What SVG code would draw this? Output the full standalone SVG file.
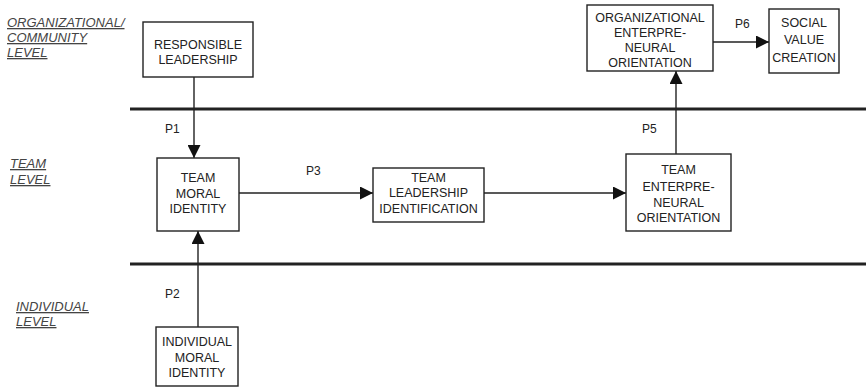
<svg xmlns="http://www.w3.org/2000/svg" width="866" height="389" viewBox="0 0 866 389">
<defs>
<marker id="ah" markerWidth="13" markerHeight="13" refX="13" refY="6.5" orient="auto" markerUnits="userSpaceOnUse">
<path d="M0,0 L13,6.5 L0,13 Z" fill="#111"/>
</marker>
<style>
.box{fill:#fff;stroke:#222;stroke-width:1.4}
.nt{font-family:"Liberation Sans",Arial,sans-serif;font-size:12.5px;fill:#222;text-anchor:middle}
.lv{font-family:"Liberation Sans",Arial,sans-serif;font-size:13px;font-style:italic;fill:#444;text-decoration:underline}
.pl{font-family:"Liberation Sans",Arial,sans-serif;font-size:12px;fill:#222}
.cn{stroke:#222;stroke-width:1.4;fill:none}
.sep{stroke:#222;stroke-width:3}
</style>
</defs>
<rect width="866" height="389" fill="#fff"/>
<g id="levels">
<text class="lv" x="7" y="27">ORGANIZATIONAL/</text>
<text class="lv" x="7" y="42">COMMUNITY</text>
<text class="lv" x="7" y="57">LEVEL</text>
<text class="lv" x="10" y="168">TEAM</text>
<text class="lv" x="10" y="184">LEVEL</text>
<text class="lv" x="16" y="311">INDIVIDUAL</text>
<text class="lv" x="16" y="326">LEVEL</text>
<line class="sep" x1="130" y1="109" x2="866" y2="109"/>
<line class="sep" x1="130" y1="264" x2="866" y2="264"/>
</g>
<g id="connectors">
<line class="cn" x1="194" y1="77" x2="194" y2="158" marker-end="url(#ah)"/>
<line class="cn" x1="198" y1="327" x2="198" y2="231" marker-end="url(#ah)"/>
<line class="cn" x1="239" y1="193" x2="373" y2="193" marker-end="url(#ah)"/>
<line class="cn" x1="484" y1="193" x2="626" y2="193" marker-end="url(#ah)"/>
<line class="cn" x1="676" y1="154" x2="676" y2="71" marker-end="url(#ah)"/>
<line class="cn" x1="713" y1="42" x2="769" y2="42" marker-end="url(#ah)"/>
<text class="pl" x="165" y="133">P1</text>
<text class="pl" x="165" y="298">P2</text>
<text class="pl" x="306" y="175">P3</text>
<text class="pl" x="642" y="133">P5</text>
<text class="pl" x="735" y="28">P6</text>
</g>
<g id="responsible-leadership">
<rect class="box" x="143" y="22" width="110" height="55"/>
<text class="nt" x="198" y="49">RESPONSIBLE</text>
<text class="nt" x="198" y="64">LEADERSHIP</text>
</g>
<g id="team-moral-identity">
<rect class="box" x="157" y="158" width="82" height="73"/>
<text class="nt" x="198" y="182">TEAM</text>
<text class="nt" x="198" y="198">MORAL</text>
<text class="nt" x="198" y="213">IDENTITY</text>
</g>
<g id="individual-moral-identity">
<rect class="box" x="156" y="327" width="82" height="59"/>
<text class="nt" x="197" y="346">INDIVIDUAL</text>
<text class="nt" x="197" y="362">MORAL</text>
<text class="nt" x="197" y="377">IDENTITY</text>
</g>
<g id="team-leadership-identification">
<rect class="box" x="373" y="168" width="111" height="54"/>
<text class="nt" x="428.5" y="182">TEAM</text>
<text class="nt" x="428.5" y="197">LEADERSHIP</text>
<text class="nt" x="428.5" y="213">IDENTIFICATION</text>
</g>
<g id="team-eo">
<rect class="box" x="626" y="154" width="105" height="77"/>
<text class="nt" x="678.5" y="174">TEAM</text>
<text class="nt" x="678.5" y="191">ENTERPRE-</text>
<text class="nt" x="678.5" y="207">NEURAL</text>
<text class="nt" x="678.5" y="222">ORIENTATION</text>
</g>
<g id="org-eo">
<rect class="box" x="587" y="5" width="126" height="66"/>
<text class="nt" x="650" y="22">ORGANIZATIONAL</text>
<text class="nt" x="650" y="37">ENTERPRE-</text>
<text class="nt" x="650" y="52">NEURAL</text>
<text class="nt" x="650" y="67">ORIENTATION</text>
</g>
<g id="social-value-creation">
<rect class="box" x="769" y="9" width="70" height="64"/>
<text class="nt" x="804" y="27">SOCIAL</text>
<text class="nt" x="804" y="44">VALUE</text>
<text class="nt" x="804" y="62">CREATION</text>
</g>
</svg>
